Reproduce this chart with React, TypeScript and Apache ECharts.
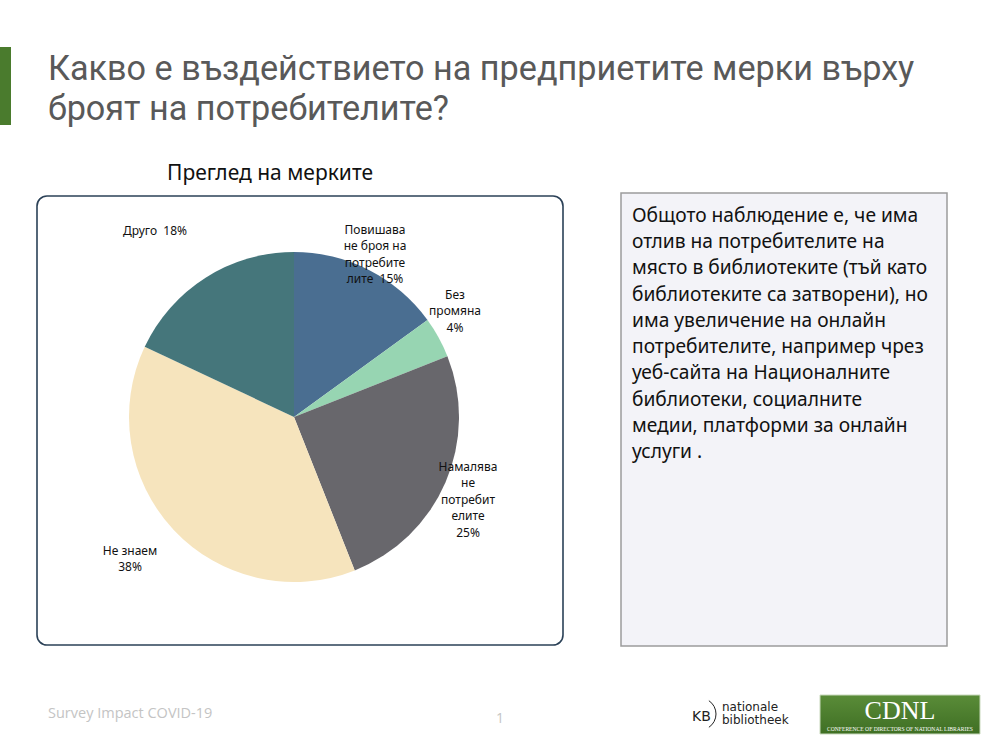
import React, { useEffect, useRef } from "react";
import * as echarts from "echarts";

const categories = [
  "Повишава не броя на потребителите",
  "Без промяна",
  "Намалява не потребителите",
  "Не знаем",
  "Друго",
];
const values = [15, 4, 25, 38, 18];
const wrappedNames = [
  "Повишава\nне броя на\nпотребите\nлите",
  "Без\nпромяна",
  "Намалява\nне\nпотребит\nелите",
  "Не знаем",
  "Друго",
];
const separators = ["  ", "\n", "\n", "\n", "  "];
const colors = ["#4a6e91", "#97d5b2", "#68676c", "#f6e4bd", "#45767b"];

const titleLines = [
  "Какво е въздействието на предприетите мерки върху",
  "броят на потребителите?",
];
const chartTitle = "Преглед на мерките";
const noteText =
  "Общото наблюдение е, че има\nотлив на потребителите на\nмясто в библиотеките (тъй като\nбиблиотеките са затворени), но\nима увеличение на онлайн\nпотребителите, например чрез\nуеб-сайта на Националните\nбиблиотеки, социалните\nмедии, платформи за онлайн\nуслуги .";
const footerText = "Survey Impact COVID-19";
const pageNumber = "1";

// label anchor positions (top-center of each label block)
const labelAnchors = [
  [375, 221],
  [455, 286],
  [468, 458],
  [130, 542],
  [155, 222],
];

export default function App() {
  const ref = useRef<HTMLDivElement>(null);
  useEffect(() => {
    if (!ref.current) return;
    const chart = echarts.init(ref.current, null, { renderer: "svg" });
    const font = "'Noto Sans', 'Open Sans', sans-serif";
    chart.setOption({
      animation: false,
      backgroundColor: "#ffffff",
      graphic: [
        { type: "rect", shape: { x: 0, y: 47, width: 11, height: 78 }, style: { fill: "#4a7b2d" } },
        {
          type: "text",
          x: 48,
          y: 68,
          style: {
            text: titleLines[0],
            fill: "#595959",
            font: "34.2px Roboto, 'Open Sans', sans-serif",
            textVerticalAlign: "middle",
          },
        },
        {
          type: "text",
          x: 48,
          y: 108,
          style: {
            text: titleLines[1],
            fill: "#595959",
            font: "34.2px Roboto, 'Open Sans', sans-serif",
            textVerticalAlign: "middle",
          },
        },
        {
          type: "text",
          x: 270,
          y: 172,
          style: {
            text: chartTitle,
            fill: "#111111",
            font: "21px " + font,
            textAlign: "center",
            textVerticalAlign: "middle",
          },
        },
        {
          type: "rect",
          z: -1,
          shape: { x: 37, y: 196, width: 526, height: 449, r: 10 },
          style: { fill: "#ffffff", stroke: "#2b4157", lineWidth: 1.6 },
        },
        {
          type: "rect",
          shape: { x: 621, y: 193, width: 326, height: 453 },
          style: { fill: "#f3f3f8", stroke: "#9c9c9c", lineWidth: 1.5 },
        },
        {
          type: "text",
          x: 632,
          y: 201,
          style: {
            text: noteText,
            fill: "#111111",
            font: "19.2px " + font,
            lineHeight: 26.3,
            textVerticalAlign: "top",
          },
        },
        {
          type: "text",
          x: 48,
          y: 712,
          style: {
            text: footerText,
            fill: "#c4c4c4",
            font: "14.5px 'Open Sans', sans-serif",
            textVerticalAlign: "middle",
          },
        },
        {
          type: "text",
          x: 500,
          y: 717,
          style: {
            text: pageNumber,
            fill: "#c4c4c4",
            font: "14px 'Open Sans', sans-serif",
            textAlign: "center",
            textVerticalAlign: "middle",
          },
        },
        {
          type: "text",
          x: 692,
          y: 716,
          style: {
            text: "KB",
            fill: "#222222",
            font: "14px 'DejaVu Sans', sans-serif",
            textVerticalAlign: "middle",
          },
        },
        {
          type: "arc",
          shape: { cx: 700, cy: 714, r: 16, startAngle: -Math.PI / 3.2, endAngle: Math.PI / 3.2 },
          style: { stroke: "#222222", lineWidth: 1, fill: "none" },
        },
        {
          type: "text",
          x: 722,
          y: 707,
          style: {
            text: "nationale",
            fill: "#222222",
            font: "12px 'DejaVu Sans', sans-serif",
            textVerticalAlign: "middle",
          },
        },
        {
          type: "text",
          x: 722,
          y: 720,
          style: {
            text: "bibliotheek",
            fill: "#222222",
            font: "12px 'DejaVu Sans', sans-serif",
            textVerticalAlign: "middle",
          },
        },
        {
          type: "rect",
          shape: { x: 820, y: 695, width: 160, height: 39 },
          style: {
            fill: new echarts.graphic.LinearGradient(0, 0, 0, 1, [
              { offset: 0, color: "#5a8c38" },
              { offset: 1, color: "#3f6f24" },
            ]),
            stroke: "#c9d9bd",
            lineWidth: 1,
          },
        },
        {
          type: "text",
          x: 900,
          y: 710,
          style: {
            text: "CDNL",
            fill: "#ffffff",
            font: "26px 'Liberation Serif', 'DejaVu Serif', serif",
            textAlign: "center",
            textVerticalAlign: "middle",
          },
        },
        {
          type: "text",
          x: 900,
          y: 729,
          style: {
            text: "CONFERENCE OF DIRECTORS OF NATIONAL LIBRARIES",
            fill: "#ffffff",
            font: "5.6px 'Liberation Serif', serif",
            textAlign: "center",
            textVerticalAlign: "middle",
          },
        },
      ],
      series: [
        {
          type: "pie",
          center: [294, 417],
          radius: 165,
          startAngle: 90,
          clockwise: true,
          color: colors,
          itemStyle: { borderWidth: 0 },
          labelLine: { show: false },
          label: {
            show: true,
            position: "outside",
            color: "#111111",
            fontFamily: font,
            fontSize: 12,
            lineHeight: 16.5,
            align: "center",
            formatter: (p: any) =>
              wrappedNames[p.dataIndex] + separators[p.dataIndex] + p.value + "%",
          },
          labelLayout: (p: any) => {
            const a = labelAnchors[p.dataIndex];
            return { x: a[0], y: a[1], align: "center", verticalAlign: "top" };
          },
          emphasis: { disabled: true },
          data: categories.map((c, i) => ({ name: c, value: values[i] })),
        },
      ],
    });
    return () => chart.dispose();
  }, []);
  return (
    <div
      ref={ref}
      style={{ position: "fixed", left: 0, top: 0, width: 1000, height: 750 }}
    />
  );
}
